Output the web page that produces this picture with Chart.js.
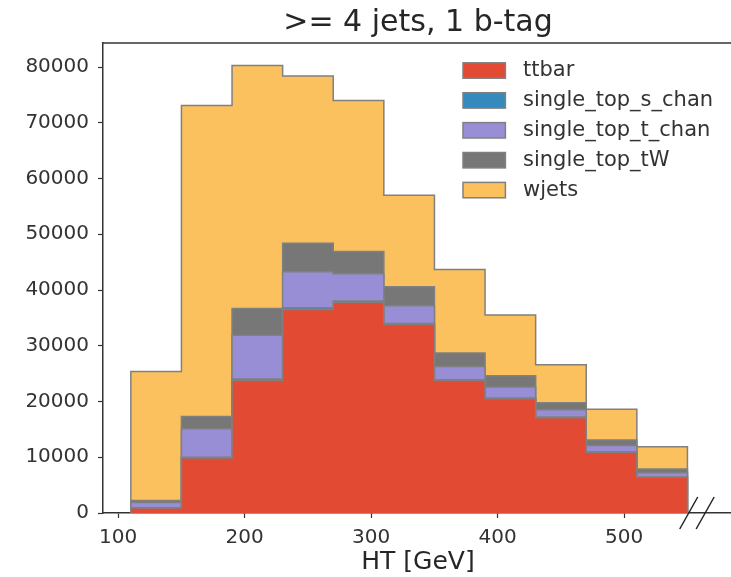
<!DOCTYPE html>
<html>
<head>
<meta charset="utf-8">
<script src="https://cdn.jsdelivr.net/npm/chart.js@4/dist/chart.umd.min.js"></script>
<style>
  html, body { margin: 0; padding: 0; background: #fff; overflow: hidden; }
  #wrap { width: 731px; height: 577px; overflow: hidden; }
  canvas { display: block; }
</style>
</head>
<body>
<div id="wrap"><canvas id="c" width="740" height="577"></canvas></div>
<script>
// ---- data ----
const binEdges = [110, 150, 190, 230, 270, 310, 350, 390, 430, 470, 510, 550];
const seriesNames = ["ttbar", "single_top_s_chan", "single_top_t_chan", "single_top_tW", "wjets"];
const ttbar           = [900, 9850, 23750, 36500, 37800, 33800, 23750, 20500, 17100, 10900, 6400];
const single_top_s    = [30, 150, 300, 300, 250, 200, 150, 120, 100, 70, 50];
const single_top_t    = [970, 5100, 7850, 6500, 4850, 3200, 2400, 1980, 1300, 1130, 750];
const single_top_tW   = [360, 2200, 4800, 5100, 4000, 3400, 2400, 2000, 1300, 1000, 700];
const wjets           = [23140, 55800, 43600, 30000, 27100, 16400, 15000, 10900, 6800, 5500, 4000];
const yTicks = [0, 10000, 20000, 30000, 40000, 50000, 60000, 70000, 80000];
const xTicks = [100, 200, 300, 400, 500];
const titleText = ">= 4 jets, 1 b-tag";
const xLabel = "HT [GeV]";

const seriesValues = [ttbar, single_top_s, single_top_t, single_top_tW, wjets];
const fillColors = ["#E24A33", "#348ABD", "#988ED5", "#777777", "#FBC15E"];
const edgeColor = "#808080";

// cumulative stack, each layer drawn as a filled step outline down to zero
const cumulative = [];
let running = new Array(binEdges.length - 1).fill(0);
seriesValues.forEach(vals => {
  running = running.map((r, i) => r + vals[i]);
  cumulative.push(running.slice());
});
function stepPoints(cum) {
  const pts = [{x: binEdges[0], y: 0}];
  for (let i = 0; i < cum.length; i++) pts.push({x: binEdges[i + 1], y: cum[i]});
  pts.push({x: binEdges[binEdges.length - 1], y: 0});
  return pts;
}
const datasets = seriesNames.map((name, k) => ({
  label: name,
  data: stepPoints(cumulative[k]),
  stepped: 'after',
  fill: 'origin',
  backgroundColor: fillColors[k],
  borderColor: edgeColor,
  borderWidth: 1.5,
  pointRadius: 0,
  pointHoverRadius: 0,
  order: k,           // higher order drawn first -> wjets (total) at the back
  clip: false
}));

const legendPlugin = {
  id: 'mplLegend',
  afterDraw(chart) {
    const ctx = chart.ctx, ca = chart.chartArea;
    ctx.save();
    ctx.font = '21px "DejaVu Sans"';
    ctx.textBaseline = 'middle';
    ctx.textAlign = 'left';
    const left = ca.right - 270;
    chart.data.datasets.forEach((ds, i) => {
      const cy = ca.top + 27.5 + i * 29.9;
      ctx.fillStyle = ds.backgroundColor;
      ctx.fillRect(left, cy - 7.7, 42.4, 15.4);
      ctx.strokeStyle = edgeColor;
      ctx.lineWidth = 1.5;
      ctx.strokeRect(left, cy - 7.7, 42.4, 15.4);
      ctx.fillStyle = '#333333';
      ctx.fillText(ds.label, left + 60, cy);
    });
    ctx.restore();
  }
};

const framePlugin = {
  id: 'frame',
  afterDraw(chart) {
    const ctx = chart.ctx, ca = chart.chartArea;
    const xs = chart.scales.x;
    ctx.save();
    ctx.strokeStyle = '#333333';
    ctx.lineWidth = 1.5;
    ctx.beginPath();
    ctx.moveTo(ca.left, ca.top);
    ctx.lineTo(ca.right, ca.top);
    ctx.stroke();
    // axis break marks on the bottom spine
    ctx.strokeStyle = '#222222';
    [551, 564].forEach(v => {
      const cx = xs.getPixelForValue(v), cy = ca.bottom;
      ctx.beginPath();
      ctx.moveTo(cx - 9, cy + 16);
      ctx.lineTo(cx + 9, cy - 16);
      ctx.stroke();
    });
    ctx.restore();
  }
};

new Chart(document.getElementById('c'), {
  type: 'line',
  data: { datasets },
  options: {
    responsive: false,
    animation: false,
    devicePixelRatio: 1,
    layout: { padding: { left: 0, right: 7, top: 0, bottom: 0 } },
    plugins: {
      legend: { display: false },
      tooltip: { enabled: false },
      title: {
        display: true,
        text: titleText,
        fullSize: false,
        color: '#262626',
        font: { family: 'DejaVu Sans', size: 30, weight: 'normal', lineHeight: 1.2 },
        padding: { top: 5, bottom: 2 }
      }
    },
    scales: {
      x: {
        type: 'linear',
        min: 88,
        max: 586,
        afterBuildTicks: s => { s.ticks = xTicks.map(v => ({value: v})); },
        afterFit: s => { s.height = 64; },
        grid: { display: true, drawOnChartArea: false, drawTicks: true, tickLength: 5, tickColor: '#333333', tickWidth: 1.2 },
        border: { display: true, color: '#333333', width: 1.5 },
        ticks: { color: '#333333', font: { family: 'DejaVu Sans', size: 20 }, padding: 8, maxRotation: 0 },
        title: { display: true, text: xLabel, color: '#262626', font: { family: 'DejaVu Sans', size: 25 }, padding: { top: 0, bottom: 0 } }
      },
      y: {
        type: 'linear',
        min: 0,
        max: 84315,
        afterBuildTicks: s => { s.ticks = yTicks.map(v => ({value: v})); },
        afterFit: s => { s.width = 103; },
        grid: { display: true, drawOnChartArea: false, drawTicks: true, tickLength: 5, tickColor: '#333333', tickWidth: 1.2 },
        border: { display: true, color: '#333333', width: 1.5 },
        ticks: { color: '#333333', font: { family: 'DejaVu Sans', size: 20 }, padding: 9, callback: v => String(v) }
      }
    }
  },
  plugins: [legendPlugin, framePlugin]
});
</script>
</body>
</html>
